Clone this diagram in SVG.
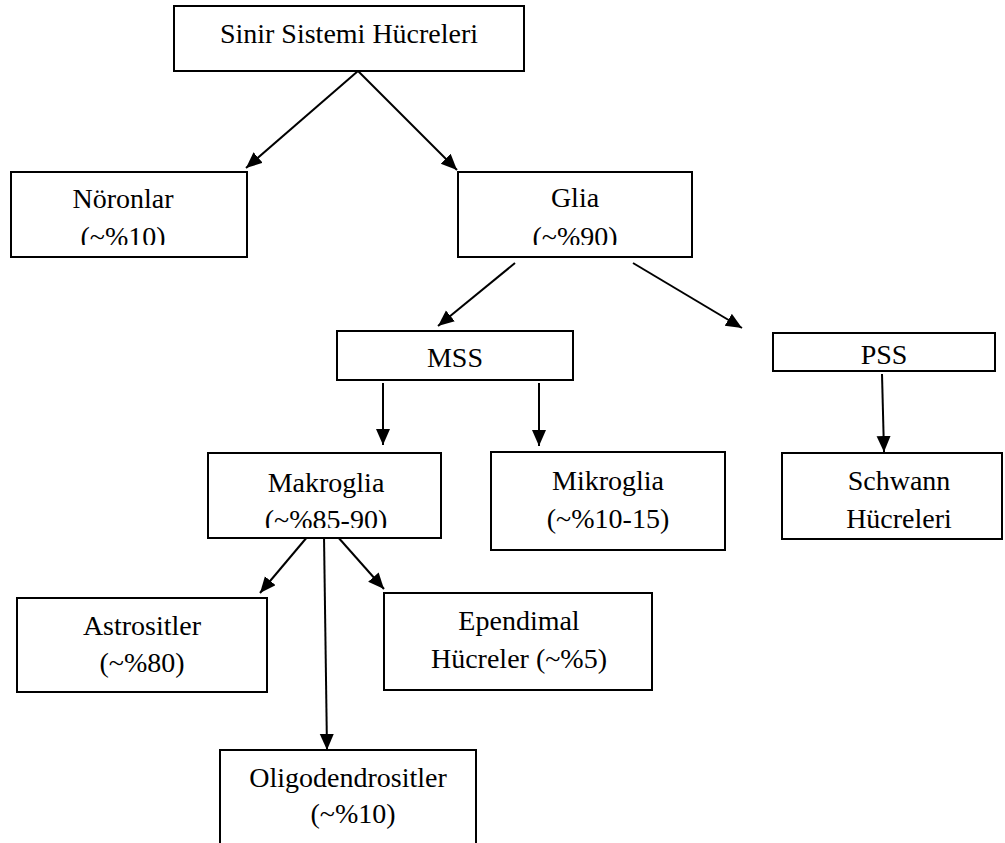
<svg xmlns="http://www.w3.org/2000/svg" width="1005" height="843" viewBox="0 0 1005 843">
<style>
.box{fill:#fff;stroke:#000;stroke-width:2}
.t{font-family:"Liberation Serif","Times New Roman",serif;font-size:28px;fill:#000;text-anchor:middle}
.c{stroke:#000;stroke-width:2;fill:none}
</style>
<defs>
<marker id="ah" markerUnits="userSpaceOnUse" markerWidth="18" markerHeight="16" refX="16" refY="7" orient="auto">
<path d="M0,0 L16,7 L0,14 Z" fill="#000"/>
</marker>
<clipPath id="clipN"><rect x="0" y="150" width="260" height="95"/></clipPath>
<clipPath id="clipG"><rect x="450" y="150" width="260" height="95"/></clipPath>
<clipPath id="clipM"><rect x="200" y="440" width="260" height="88"/></clipPath>
</defs>
<rect width="1005" height="843" fill="#fff"/>
<g id="connectors">
<line class="c" x1="358" y1="71" x2="246" y2="168" marker-end="url(#ah)"/>
<line class="c" x1="358" y1="71" x2="457" y2="170" marker-end="url(#ah)"/>
<line class="c" x1="515" y1="263" x2="438" y2="326" marker-end="url(#ah)"/>
<line class="c" x1="633" y1="263" x2="742" y2="328" marker-end="url(#ah)"/>
<line class="c" x1="383" y1="383" x2="383" y2="445" marker-end="url(#ah)"/>
<line class="c" x1="539" y1="383" x2="539" y2="446" marker-end="url(#ah)"/>
<line class="c" x1="882" y1="374" x2="884" y2="452" marker-end="url(#ah)"/>
<line class="c" x1="308" y1="536" x2="260" y2="593" marker-end="url(#ah)"/>
<line class="c" x1="324" y1="536" x2="327" y2="750" marker-end="url(#ah)"/>
<line class="c" x1="337" y1="536" x2="384" y2="589" marker-end="url(#ah)"/>
</g>
<g id="root">
<rect class="box" x="174" y="6" width="350" height="65"/>
<text class="t" x="349" y="43">Sinir Sistemi Hücreleri</text>
</g>
<g id="noronlar">
<rect class="box" x="11" y="172" width="236" height="85"/>
<g clip-path="url(#clipN)">
<text class="t" x="123" y="208">Nöronlar</text>
<text class="t" x="123" y="246">(~%10)</text>
</g>
</g>
<g id="glia">
<rect class="box" x="458" y="172" width="234" height="85"/>
<g clip-path="url(#clipG)">
<text class="t" x="575" y="207">Glia</text>
<text class="t" x="575" y="246">(~%90)</text>
</g>
</g>
<g id="mss">
<rect class="box" x="337" y="331" width="236" height="49"/>
<text class="t" x="455" y="367">MSS</text>
</g>
<g id="pss">
<rect class="box" x="773" y="333" width="222" height="38"/>
<text class="t" x="884" y="364">PSS</text>
</g>
<g id="makroglia">
<rect class="box" x="208" y="453" width="233" height="85"/>
<g clip-path="url(#clipM)">
<text class="t" x="326" y="492">Makroglia</text>
<text class="t" x="326" y="529">(~%85-90)</text>
</g>
</g>
<g id="mikroglia">
<rect class="box" x="491" y="452" width="234" height="98"/>
<text class="t" x="608" y="490">Mikroglia</text>
<text class="t" x="608" y="528">(~%10-15)</text>
</g>
<g id="schwann">
<rect class="box" x="782" y="453" width="220" height="86"/>
<text class="t" x="899" y="490">Schwann</text>
<text class="t" x="899" y="528">Hücreleri</text>
</g>
<g id="astrositler">
<rect class="box" x="17" y="598" width="250" height="94"/>
<text class="t" x="142" y="635">Astrositler</text>
<text class="t" x="142" y="672">(~%80)</text>
</g>
<g id="ependimal">
<rect class="box" x="384" y="593" width="268" height="97"/>
<text class="t" x="519" y="630">Ependimal</text>
<text class="t" x="519" y="668">Hücreler (~%5)</text>
</g>
<g id="oligodendrositler">
<rect class="box" x="220" y="750" width="256" height="110"/>
<text class="t" x="348" y="787">Oligodendrositler</text>
<text class="t" x="353" y="823">(~%10)</text>
</g>
</svg>
